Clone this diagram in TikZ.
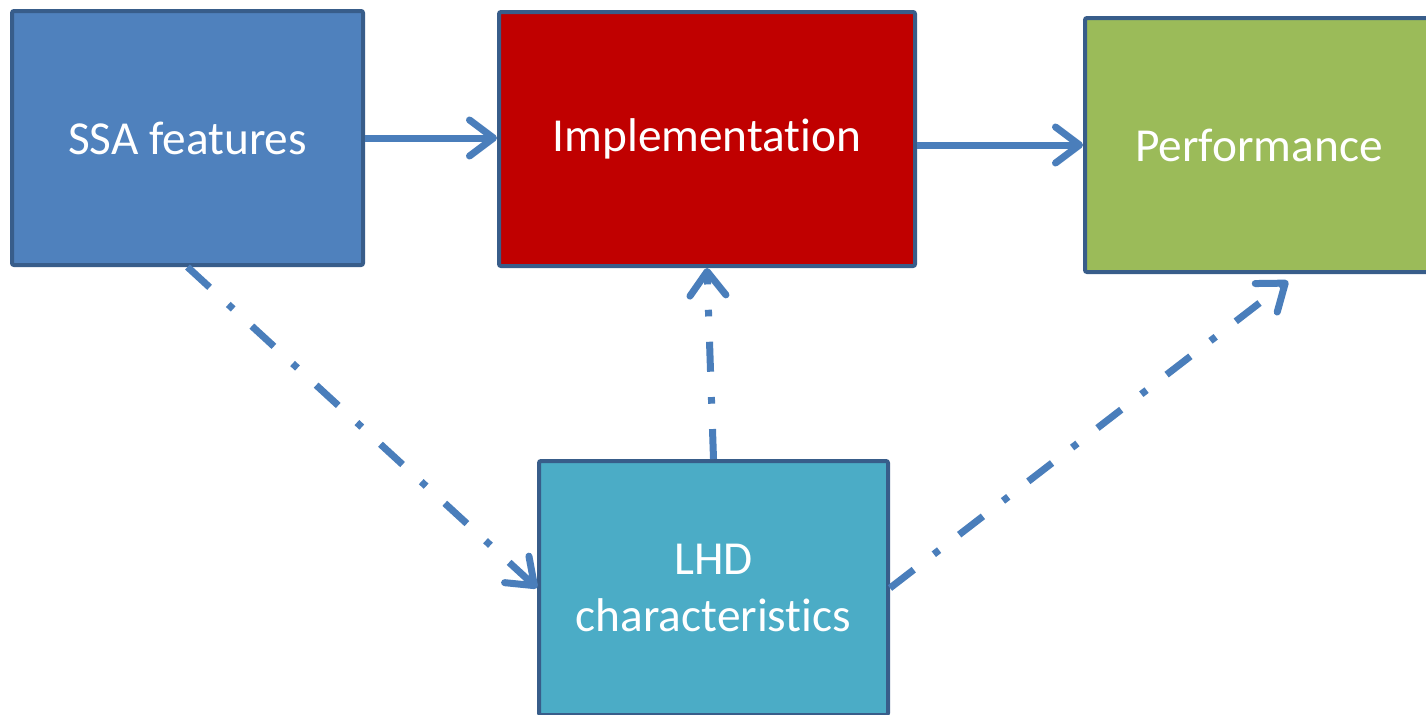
\documentclass[tikz,border=0pt]{standalone}
\usepackage{fontspec}
\setmainfont{Carlito}[Ligatures={NoCommon}]
\usetikzlibrary{arrows.meta}
\definecolor{ssa}{HTML}{4F81BD}
\definecolor{impl}{HTML}{C00000}
\definecolor{perf}{HTML}{9BBB59}
\definecolor{lhd}{HTML}{4BACC6}
\definecolor{bordr}{HTML}{385D8A}
\definecolor{arr}{HTML}{4A7EBB}
\tikzset{
  box/.style={draw=bordr, line width=3pt, rounded corners=1.5pt, inner sep=0pt,
    minimum height=190.5pt, text=white, align=center,
    font=\fontsize{35.5}{43}\selectfont},
  conn/.style={draw=arr, line width=5.25pt,
    -{Straight Barb[length=18pt, width=27pt, round]}},
  dashdot/.style={dash pattern=on 22.5pt off 19pt on 5pt off 19pt}
}
\begin{document}
\begin{tikzpicture}[x=0.75pt, y=-0.75pt]
\useasboundingbox[clip] (0,0) rectangle (1426,714);
\fill[white] (0,0) rectangle (1426,714);
\node[box, fill=ssa, minimum width=263.25pt] (ssa) at (187.5,138) {SSA features};
\node[box, fill=impl, minimum width=312pt] (impl) at (707,139) {Implementation};
\node[box, fill=perf, minimum width=261pt] (perf) at (1259,145) {Performance};
\node[box, fill=lhd, minimum width=261.75pt] (lhd) at (713.5,588) {LHD\\characteristics};
\coordinate (pe) at (1288,281);
\draw[conn] (ssa.east) -- (ssa.east -| impl.west);
\draw[conn] (impl.east |- perf.west) -- (perf.west);
\draw[conn, dashdot] (ssa.south) -- (lhd.west);
\draw[conn, dashdot] (lhd.north) -- (impl.south);
\draw[conn, dashdot] (lhd.east) -- (pe);
\end{tikzpicture}
\end{document}
